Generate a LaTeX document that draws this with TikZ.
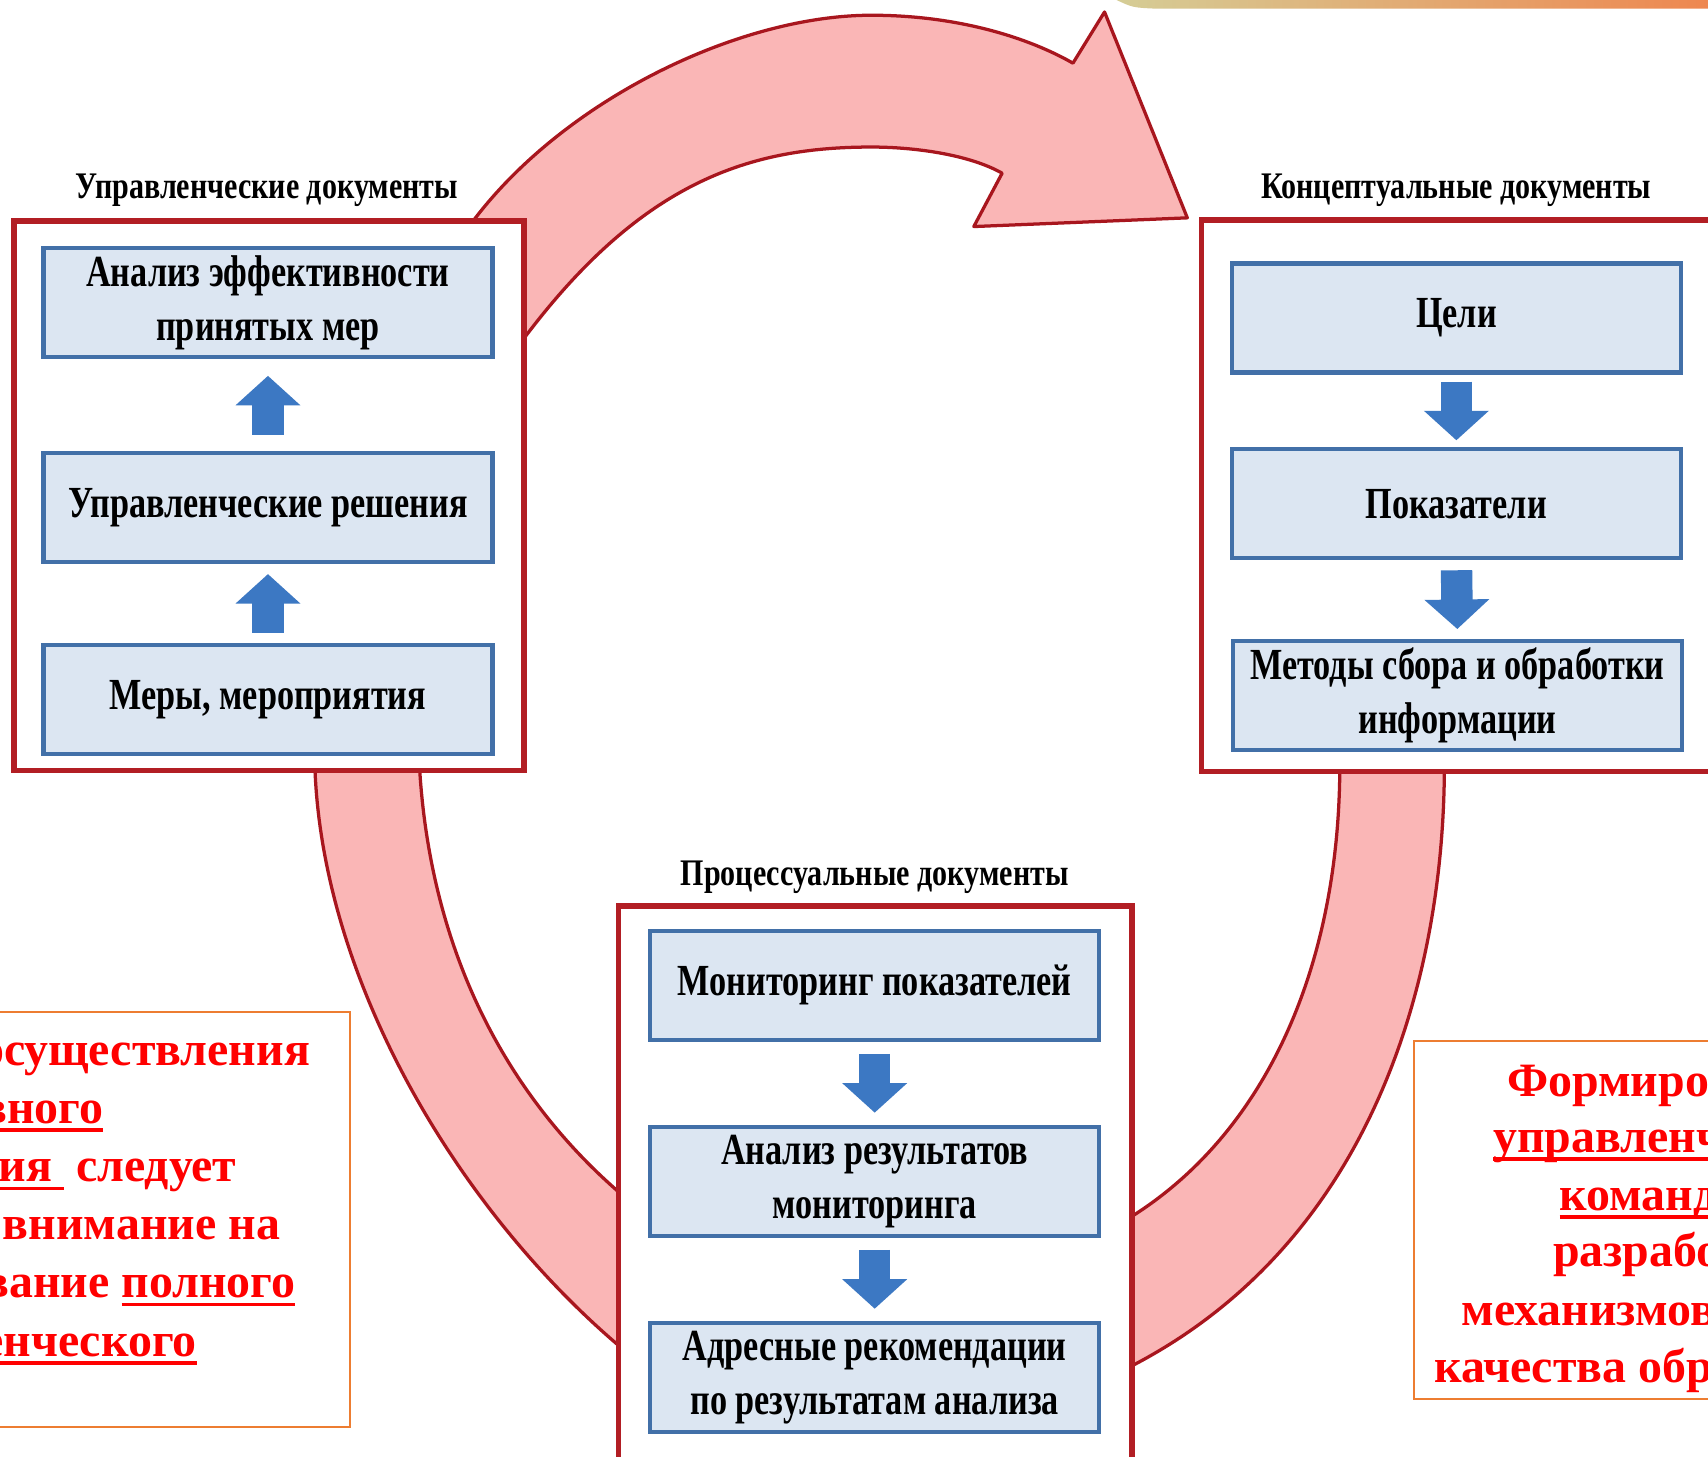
\documentclass[tikz,border=0pt]{standalone}
\usepackage{fontspec}
\setmainfont{Liberation Serif}
\newfontfamily\condfont[FakeStretch=0.77]{Liberation Serif}
\newfontfamily\titfont[FakeStretch=0.8]{Liberation Serif}
\usetikzlibrary{arrows.meta}
\definecolor{pinkfill}{RGB}{250,182,182}
\definecolor{pinkedge}{RGB}{168,22,30}
\definecolor{framered}{RGB}{178,30,36}
\definecolor{boxfill}{RGB}{220,230,242}
\definecolor{boxedge}{RGB}{66,112,168}
\definecolor{arrowblue}{RGB}{60,120,195}
\definecolor{noteorange}{RGB}{237,125,49}
\definecolor{notered}{RGB}{255,0,0}
\definecolor{barleft}{RGB}{213,205,150}
\definecolor{barmid}{RGB}{236,190,100}
\definecolor{barright}{RGB}{238,135,80}
\newcommand\myul[1]{\setbox0\hbox{#1}\rlap{\rule[-2.2pt]{\wd0}{0.9pt}}\box0}
\begin{document}
\begin{tikzpicture}[x=0.01cm,y=-0.01cm,
  outerbox/.style={draw=framered, line width=1.4pt, fill=white, inner sep=0pt, outer sep=0pt},
  innerbox/.style={draw=boxedge, line width=1.1pt, fill=boxfill, minimum width=4.12cm, minimum height=1.0cm, inner sep=0pt, outer sep=0pt, align=center, font=\condfont\bfseries\fontsize{11.6pt}{14.2pt}\selectfont},
  doctitle/.style={font=\titfont\bfseries\fontsize{9.8pt}{11pt}\selectfont, inner sep=0pt},
  barrow/.style={draw=arrowblue, line width=8.2pt, -{Triangle[width=16.5pt,length=7.7pt]}},
  band/.style={fill=pinkfill, draw=pinkedge, line width=0.85pt, line join=round},
  note/.style={draw=noteorange, line width=0.6pt, fill=white, inner sep=0pt},
  notetext/.style={font=\bfseries\fontsize{12.5pt}{15pt}\selectfont, text=notered, inner sep=0pt, anchor=base west},
]
\useasboundingbox (0,0) rectangle (1568,1337);
\clip (0,0) rectangle (1568,1337);
\fill[white] (0,0) rectangle (1568,1337);

% top bar
\shade[left color=barleft, middle color=barmid, right color=barright]
  (1025,0) .. controls (1040,7) .. (1062,8) -- (1568,8) -- (1568,0) -- cycle;

% pink bands
\draw[band] (400,240) -- (435,202) .. controls (520,90) and (680,14) .. (800,14)
  .. controls (880,14) and (945,35) .. (985,58) -- (1014,11) -- (1090,200) -- (894,208) -- (920,159)
  .. controls (890,142) and (840,135) .. (800,135)
  .. controls (690,135) and (590,165) .. (480,312) -- (455,370) -- cycle;
\draw[band] (287,690) -- (289,702) .. controls (295,900) and (420,1110) .. (570,1237)
  -- (600,1250) -- (600,1100) -- (570,1096) .. controls (470,1010) and (395,880) .. (385,702) -- (384,690) -- cycle;
\draw[band] (1326,690) -- (1326,702) .. controls (1326,900) and (1259,1141) .. (1037,1255)
  -- (1010,1265) -- (1010,1125) -- (1037,1118) .. controls (1166.5,1037.5) and (1230,880) .. (1230,702) -- (1230,690) -- cycle;

% outer frames
\node[outerbox, minimum width=4.68cm, minimum height=5.04cm] (L) at (247,455) {};
\node[outerbox, minimum width=4.70cm, minimum height=5.06cm] (R) at (1338,455) {};
\node[outerbox, minimum width=4.71cm, minimum height=5.20cm] (B) at (803.5,1092) {};

% titles
\node[doctitle] (Lt) at (245,175) {Управленческие документы};
\node[doctitle] (Rt) at (1337,175) {Концептуальные документы};
\node[doctitle] (Bt) at (803,805) {Процессуальные документы};

% inner boxes
\node[innerbox] (lb1) at (246,278) {Анализ эффективности\\принятых мер};
\node[innerbox] (lb2) at (246,466) {Управленческие решения};
\node[innerbox] (lb3) at (246,642) {Меры, мероприятия};
\node[innerbox] (rb1) at (1337,292) {Цели};
\node[innerbox] (rb2) at (1337,462.5) {Показатели};
\node[innerbox] (rb3) at (1338,638.5) {Методы сбора и обработки\\информации};
\node[innerbox] (bb1) at (803,904.5) {Мониторинг показателей};
\node[innerbox] (bb2) at (803,1084.5) {Анализ результатов\\мониторинга};
\node[innerbox] (bb3) at (803,1264.5) {Адресные рекомендации\\по результатам анализа};

% blue arrows
\draw[barrow, shorten <=0.11cm, shorten >=0.11cm] (lb3.north) -- (lb2.south);
\draw[barrow, shorten <=0.17cm, shorten >=0.17cm] (lb2.north) -- (lb1.south);
\draw[barrow, shorten <=0.0825cm, shorten >=0.0825cm] (rb1.south) -- (rb2.north);
\draw[barrow, shorten <=0.11cm, shorten >=0.11cm] (rb2.south) -- (rb3.north);
\draw[barrow, shorten <=0.13cm, shorten >=0.13cm] (bb1.south) -- (bb2.north);
\draw[barrow, shorten <=0.13cm, shorten >=0.13cm] (bb2.south) -- (bb3.north);

% note boxes
\node[note, minimum width=3.31cm, minimum height=3.81cm] (NL) at (155.5,1119.5) {};
\node[note, minimum width=2.92cm, minimum height=3.28cm] (NR) at (1444,1120) {};

\node[notetext] (n1) at (-19,978) {осуществления};
\node[notetext] (n2) at (-18,1031.4) {\myul{вного}};
\node[notetext] (n3) at (-2,1084.8) {\myul{ия\ }\ следует};
\node[notetext] (n4) at (2,1138.2) {внимание на};
\node[notetext] (n5) at (-16,1191.6) {вание \myul{полного}};
\node[notetext] (n6) at (-17,1245) {\myul{енческого}};

\node[notetext] (m1) at (1383,1007) {Формиро};
\node[notetext] (m2) at (1370,1058) {\myul{управленч}};
\node[notetext] (m3) at (1431,1111) {\myul{команд}};
\node[notetext] (m4) at (1425,1163) {разрабо};
\node[notetext] (m5) at (1341,1217) {механизмов};
\node[notetext] (m6) at (1316,1269) {качества обр};
\end{tikzpicture}
\end{document}
